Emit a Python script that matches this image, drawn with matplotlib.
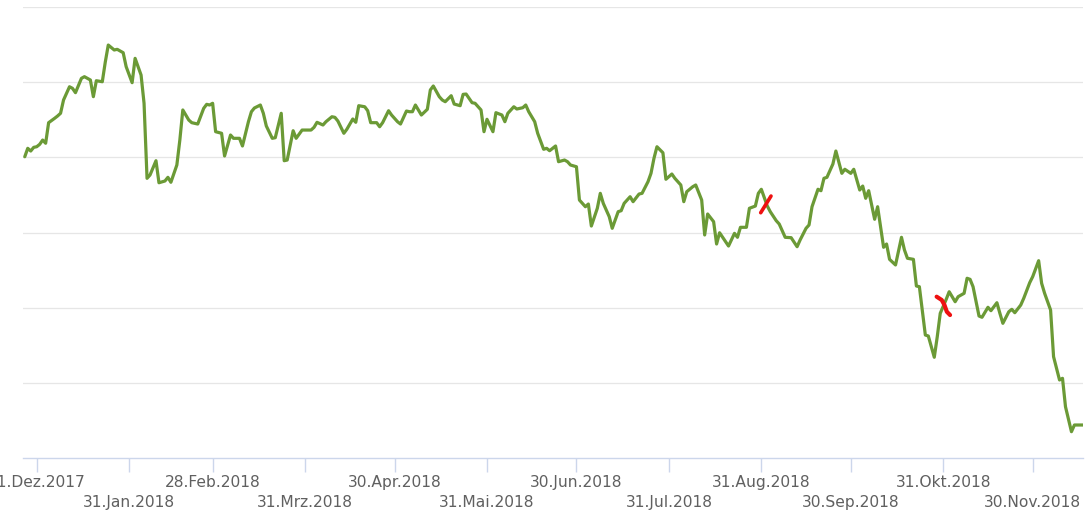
import matplotlib
matplotlib.use("Agg")
import matplotlib.pyplot as plt
import matplotlib.dates as mdates
import pandas as pd

# ---------------- data ----------------
dates = [
"2017-12-27","2017-12-28","2017-12-29","2017-12-30","2017-12-31",
"2018-01-01","2018-01-02","2018-01-03","2018-01-04","2018-01-06",
"2018-01-07","2018-01-08","2018-01-09","2018-01-11","2018-01-12",
"2018-01-13","2018-01-15","2018-01-16","2018-01-18","2018-01-19",
"2018-01-20","2018-01-22","2018-01-23","2018-01-24","2018-01-26",
"2018-01-27","2018-01-29","2018-01-30","2018-02-01","2018-02-02",
"2018-02-04","2018-02-05","2018-02-06","2018-02-07","2018-02-09",
"2018-02-10","2018-02-12","2018-02-13","2018-02-14","2018-02-16",
"2018-02-17","2018-02-18","2018-02-20","2018-02-21","2018-02-23",
"2018-02-25","2018-02-26","2018-02-27","2018-02-28","2018-03-01",
"2018-03-03","2018-03-04","2018-03-06","2018-03-07","2018-03-09",
"2018-03-10","2018-03-12","2018-03-13","2018-03-14","2018-03-16",
"2018-03-17","2018-03-18","2018-03-20","2018-03-21","2018-03-23",
"2018-03-24","2018-03-25","2018-03-27","2018-03-28","2018-03-30",
"2018-03-31","2018-04-02","2018-04-03","2018-04-04","2018-04-06",
"2018-04-07","2018-04-09","2018-04-10","2018-04-11","2018-04-13",
"2018-04-14","2018-04-16","2018-04-17","2018-04-18","2018-04-20",
"2018-04-21","2018-04-22","2018-04-24","2018-04-25","2018-04-26",
"2018-04-28","2018-04-29","2018-05-01","2018-05-02","2018-05-04",
"2018-05-05","2018-05-06","2018-05-07","2018-05-09","2018-05-11",
"2018-05-12","2018-05-13","2018-05-15","2018-05-16","2018-05-17",
"2018-05-19","2018-05-20","2018-05-22","2018-05-23","2018-05-24",
"2018-05-26","2018-05-27","2018-05-29","2018-05-30","2018-05-31",
"2018-06-02","2018-06-03","2018-06-05","2018-06-06","2018-06-07",
"2018-06-09","2018-06-10","2018-06-12","2018-06-13","2018-06-14",
"2018-06-16","2018-06-17","2018-06-19","2018-06-20","2018-06-21",
"2018-06-23","2018-06-24","2018-06-26","2018-06-27","2018-06-28",
"2018-06-30","2018-07-01","2018-07-03","2018-07-04","2018-07-05",
"2018-07-07","2018-07-08","2018-07-09","2018-07-11","2018-07-12",
"2018-07-14","2018-07-15","2018-07-16","2018-07-18","2018-07-19",
"2018-07-21","2018-07-22","2018-07-24","2018-07-25","2018-07-26",
"2018-07-27","2018-07-29","2018-07-30","2018-08-01","2018-08-02",
"2018-08-04","2018-08-05","2018-08-06","2018-08-08","2018-08-09",
"2018-08-11","2018-08-12","2018-08-13","2018-08-15","2018-08-16",
"2018-08-17","2018-08-19","2018-08-20","2018-08-22","2018-08-23",
"2018-08-24","2018-08-26","2018-08-27","2018-08-29","2018-08-30",
"2018-08-31","2018-09-02","2018-09-03","2018-09-05","2018-09-06",
"2018-09-08","2018-09-10","2018-09-12","2018-09-13","2018-09-15",
"2018-09-16","2018-09-17","2018-09-19","2018-09-20","2018-09-21",
"2018-09-22","2018-09-24","2018-09-25","2018-09-27","2018-09-28",
"2018-09-30","2018-10-01","2018-10-03","2018-10-04","2018-10-05",
"2018-10-06","2018-10-08","2018-10-09","2018-10-11","2018-10-12",
"2018-10-13","2018-10-15","2018-10-17","2018-10-18","2018-10-19",
"2018-10-21","2018-10-22","2018-10-23","2018-10-25","2018-10-26",
"2018-10-28","2018-10-29","2018-10-30","2018-11-01","2018-11-02",
"2018-11-04","2018-11-05","2018-11-07","2018-11-08","2018-11-09",
"2018-11-10","2018-11-12","2018-11-13","2018-11-15","2018-11-16",
"2018-11-18","2018-11-19","2018-11-20","2018-11-22","2018-11-23",
"2018-11-24","2018-11-26","2018-11-27","2018-11-29","2018-11-30",
"2018-12-02","2018-12-03","2018-12-04","2018-12-06","2018-12-07",
"2018-12-09","2018-12-10","2018-12-11","2018-12-13","2018-12-14",
"2018-12-17"]

values = [
40.08,41.20,40.84,41.33,41.41,41.73,42.30,41.87,44.61,45.19,
45.50,45.86,47.63,49.39,49.18,48.60,50.51,50.73,50.29,48.07,
50.19,50.06,52.68,54.94,54.28,54.37,53.92,52.06,49.93,53.17,
50.95,47.19,37.21,37.65,39.55,36.62,36.85,37.34,36.68,38.98,
42.30,46.30,44.96,44.61,44.43,46.52,47.05,46.96,47.19,43.41,
43.20,40.18,42.97,42.53,42.53,41.51,44.74,46.07,46.56,46.96,
45.86,44.17,42.53,42.61,45.86,39.55,39.64,43.54,42.53,43.63,
43.63,43.63,43.99,44.66,44.30,44.74,45.40,45.32,44.83,43.20,
43.73,45.10,44.66,46.87,46.73,46.20,44.61,44.61,44.07,44.61,
46.20,45.63,44.74,44.43,46.16,46.07,46.07,46.96,45.63,46.39,
48.96,49.49,48.07,47.63,47.40,48.20,47.09,46.87,48.38,48.42,
47.27,47.19,46.30,43.41,45.06,43.41,45.94,45.63,44.74,45.86,
46.73,46.43,46.60,46.96,46.07,44.74,43.20,41.07,41.20,40.88,
41.51,39.42,39.64,39.42,38.98,38.75,34.32,33.43,33.79,30.86,
33.22,35.21,33.88,32.10,30.56,32.77,32.90,33.88,34.76,34.10,
35.12,35.21,36.76,37.87,39.87,41.41,40.61,37.08,37.78,37.21,
36.32,34.10,35.43,36.09,36.32,34.32,29.67,32.46,31.44,28.47,
29.97,28.78,28.20,29.89,29.36,30.69,30.69,33.22,33.52,35.21,
35.75,33.52,32.77,31.57,31.13,29.36,29.31,28.11,29.00,30.56,
31.00,33.43,35.75,35.56,37.21,37.34,39.11,40.84,37.87,38.41,
37.87,38.41,35.65,36.18,34.55,35.56,31.76,33.43,28.03,28.47,
26.43,25.68,29.36,27.67,26.57,26.43,22.88,22.79,16.36,16.23,
13.40,16.14,19.25,21.11,22.12,20.79,21.46,21.91,23.91,23.77,
22.79,18.89,18.72,20.05,19.60,20.66,19.25,17.92,19.46,19.78,
19.33,20.35,21.25,23.32,24.12,26.25,23.24,21.91,19.69,13.48,
10.38,10.60,6.82,3.50,4.39,4.39]

tick_dates = ["2017-12-31","2018-01-31","2018-02-28","2018-03-31","2018-04-30","2018-05-31",
              "2018-06-30","2018-07-31","2018-08-31","2018-09-30","2018-10-31","2018-11-30"]
tick_labels = ["31.Dez.2017","31.Jan.2018","28.Feb.2018","31.Mrz.2018","30.Apr.2018","31.Mai.2018",
               "30.Jun.2018","31.Jul.2018","31.Aug.2018","30.Sep.2018","31.Okt.2018","30.Nov.2018"]

grid_values = [10, 20, 30, 40, 50, 60]

# red hand-drawn marks
mark1_dates = ["2018-08-30 19:00", "2018-09-03 06:00"]
mark1_values = [32.63, 34.85]
mark2_dates = ["2018-10-28 19:00", "2018-10-30 12:00", "2018-10-31 10:00", "2018-11-01 05:00", "2018-11-02 07:00"]
mark2_values = [21.46, 21.02, 20.35, 19.46, 19.02]

assert len(dates) == len(values)

# ---------------- figure ----------------
W, H = 1087, 519
fig = plt.figure(figsize=(W / 100, H / 100), dpi=100)
fig.patch.set_facecolor("white")

px_day0 = 36.7      # pixel of 31.Dez.2017
px_per_day = 2.982
left_px, right_px = 22.7, 1083.4
top_px, bottom_px = 7.0, 458.0
ax = fig.add_axes([left_px / W, 1 - bottom_px / H, (right_px - left_px) / W, (bottom_px - top_px) / H])

x = pd.to_datetime(dates)
d0 = mdates.date2num(pd.Timestamp("2017-12-31"))
ax.set_xlim(d0 + (left_px - px_day0) / px_per_day, d0 + (right_px - px_day0) / px_per_day)
ax.set_ylim(0, 60)

for g in grid_values:
    ax.axhline(g, color="#e6e6e6", lw=0.9, zorder=1)

ax.plot(x, values, color="#6b9a36", lw=2.3, solid_joinstyle="round", solid_capstyle="round", zorder=3)

ax.plot(pd.to_datetime(mark1_dates), mark1_values, color="#ee1111", lw=2.6, solid_capstyle="round", zorder=4)
ax.plot(pd.to_datetime(mark2_dates), mark2_values, color="#ee1111", lw=3.0, solid_capstyle="round",
        solid_joinstyle="round", zorder=4)

for s in ["top", "right", "left"]:
    ax.spines[s].set_visible(False)
ax.spines["bottom"].set_color("#ccd6eb")
ax.spines["bottom"].set_linewidth(1.0)

ax.set_yticks([])
tdates = pd.to_datetime(tick_dates)
ax.set_xticks(tdates)
ax.set_xticklabels([])
ax.tick_params(axis="x", length=10, width=1.0, color="#ccd6eb", direction="out")

trans = ax.get_xaxis_transform()
span = bottom_px - top_px
for i, (td, lab) in enumerate(zip(tdates, tick_labels)):
    base_px = 486.7 if i % 2 == 0 else 507.3
    ax.text(td, -(base_px - bottom_px) / span, lab, transform=trans, ha="center", va="baseline",
            fontsize=11.2, color="#606060", family="DejaVu Sans", clip_on=False)

fig.savefig("out.png", dpi=100, facecolor="white")
